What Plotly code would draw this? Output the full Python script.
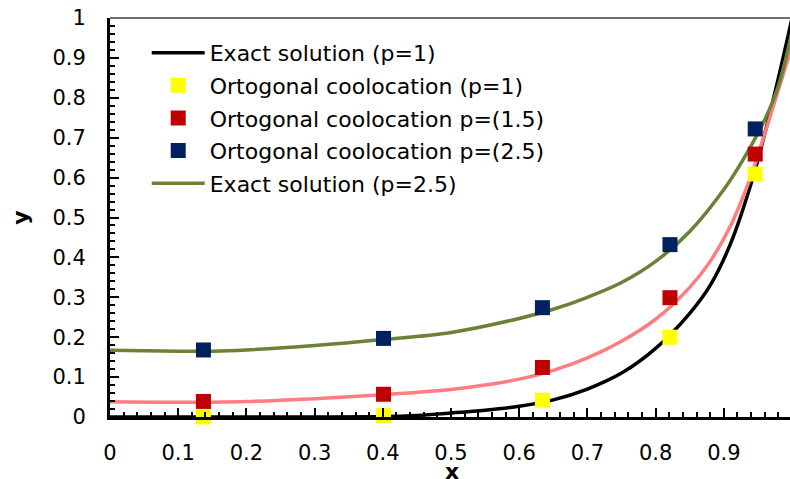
import plotly.graph_objects as go

# Collocation points and marker values
x_pts = [0.137, 0.401, 0.634, 0.821, 0.946, 1.0]
y_colloc_p1 = [0.0, 0.004, 0.042, 0.20, 0.609, 1.0]
y_colloc_p15 = [0.039, 0.057, 0.124, 0.299, 0.659, 1.0]
y_colloc_p25 = [0.168, 0.197, 0.274, 0.432, 0.722, 1.0]

# Exact solution p=1 (black)
x_exact1 = [0, 0.1, 0.2, 0.3, 0.4, 0.45, 0.5, 0.55, 0.6, 0.65, 0.7, 0.75, 0.8,
            0.85, 0.88, 0.91, 0.94, 0.96, 0.98, 1.0]
y_exact1 = [0, 0, 0, 0, 0.001, 0.004, 0.01, 0.017, 0.027, 0.043, 0.07, 0.11, 0.172,
            0.26, 0.33, 0.435, 0.585, 0.71, 0.85, 1.0]

# Fitted curve p=1.5 (pink)
x_fit15 = [0, 0.1, 0.2, 0.3, 0.4, 0.5, 0.55, 0.6, 0.65, 0.7, 0.75, 0.8, 0.85, 0.88,
           0.91, 0.94, 0.96, 0.98, 1.0]
y_fit15 = [0.038, 0.037, 0.039, 0.046, 0.056, 0.069, 0.08, 0.095, 0.117, 0.148, 0.19,
           0.245, 0.325, 0.39, 0.48, 0.605, 0.71, 0.82, 0.93]

# Exact solution p=2.5 (green)
x_exact25 = [0, 0.05, 0.1, 0.15, 0.2, 0.3, 0.4, 0.5, 0.6, 0.65, 0.7, 0.75, 0.8, 0.85,
             0.9, 0.93, 0.96, 0.98, 1.0]
y_exact25 = [0.1675, 0.166, 0.165, 0.165, 0.168, 0.179, 0.194, 0.212, 0.247, 0.27, 0.3,
             0.337, 0.39, 0.465, 0.57, 0.65, 0.745, 0.83, 0.965]

x_ticks = [0, 0.1, 0.2, 0.3, 0.4, 0.5, 0.6, 0.7, 0.8, 0.9, 1]
y_ticks = [0, 0.1, 0.2, 0.3, 0.4, 0.5, 0.6, 0.7, 0.8, 0.9, 1]

FONT = "DejaVu Sans"
LINE = dict(width=3.5, shape="spline", smoothing=1.0)

fig = go.Figure()

fig.add_trace(go.Scatter(x=x_exact1, y=y_exact1, mode="lines", name="Exact solution (p=1)",
                         line=dict(color="#000000", **LINE), legendgroup="a", legendrank=1))
fig.add_trace(go.Scatter(x=x_fit15, y=y_fit15, mode="lines", showlegend=False,
                         line=dict(color="#FF7C80", **LINE)))
fig.add_trace(go.Scatter(x=x_exact25, y=y_exact25, mode="lines", name="Exact solution (p=2.5)",
                         line=dict(color="#6A8136", **LINE), legendgroup="e", legendrank=5))
fig.add_trace(go.Scatter(x=x_pts, y=y_colloc_p1, mode="markers", name="Ortogonal coolocation (p=1)",
                         marker=dict(symbol="square", size=15, color="#FFFF00"),
                         cliponaxis=False, legendgroup="b", legendrank=2))
fig.add_trace(go.Scatter(x=x_pts, y=y_colloc_p15, mode="markers", name="Ortogonal coolocation p=(1.5)",
                         marker=dict(symbol="square", size=15, color="#C00000"),
                         cliponaxis=False, legendgroup="c", legendrank=3))
fig.add_trace(go.Scatter(x=x_pts, y=y_colloc_p25, mode="markers", name="Ortogonal coolocation p=(2.5)",
                         marker=dict(symbol="square", size=15, color="#002060"),
                         cliponaxis=False, legendgroup="d", legendrank=4))

fig.update_layout(
    width=790, height=479,
    margin=dict(l=110, r=0, t=18, b=62, autoexpand=False),
    plot_bgcolor="white", paper_bgcolor="white",
    font=dict(family=FONT, size=21, color="#000000"),
    legend=dict(x=0.054, y=0.965, xanchor="left", yanchor="top",
                bgcolor="rgba(0,0,0,0)", font=dict(size=22),
                traceorder="grouped", tracegroupgap=1, itemwidth=53),
    shapes=[dict(type="line", xref="paper", yref="paper", x0=0, x1=1, y0=1, y1=1,
                 line=dict(color="#404040", width=1.5))],
    annotations=[
        dict(text="<b>x</b>", xref="paper", yref="paper", x=0.503, y=-0.137,
             xanchor="center", yanchor="middle", showarrow=False, font=dict(size=22)),
        dict(text="<b>y</b>", xref="paper", yref="paper", x=-0.132, y=0.5,
             xanchor="center", yanchor="middle", showarrow=False, textangle=-90,
             font=dict(size=22)),
    ],
)

fig.update_xaxes(
    range=[0, 0.997], tickvals=x_ticks, ticktext=[str(v) for v in x_ticks], automargin=False,
    showgrid=False, zeroline=False, showline=True, linecolor="black", linewidth=3,
    ticks="inside", ticklen=9, tickwidth=2, tickcolor="black", ticklabelstandoff=15,
    minor=dict(ticks="inside", dtick=0.02, ticklen=5, tickwidth=2, tickcolor="black", showgrid=False),
)
fig.update_yaxes(
    range=[0, 1], tickvals=y_ticks, ticktext=[str(v) for v in y_ticks], automargin=False,
    showgrid=False, zeroline=False, showline=True, linecolor="black", linewidth=3,
    ticks="inside", ticklen=9, tickwidth=2, tickcolor="black", ticklabelstandoff=17,
    minor=dict(ticks="inside", dtick=0.02, ticklen=5, tickwidth=2, tickcolor="black", showgrid=False),
)

fig.write_html("out.html")
